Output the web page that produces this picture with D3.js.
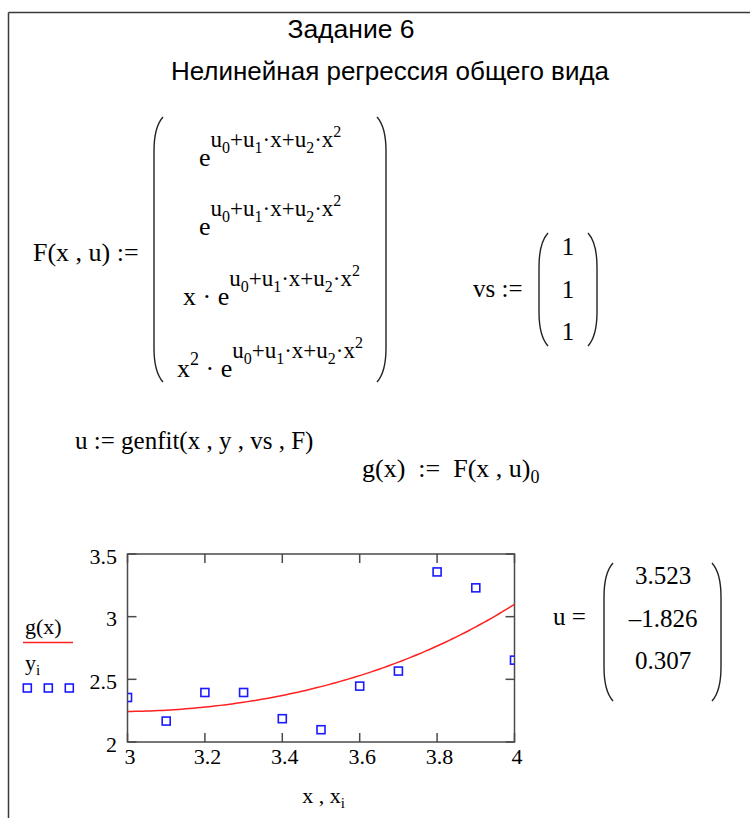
<!DOCTYPE html>
<html>
<head>
<meta charset="utf-8">
<script src="https://cdn.jsdelivr.net/npm/d3@7"></script>
<style>
  html, body { margin: 0; padding: 0; background: #fff; }
  svg { display: block; }
  .serif { font-family: "Liberation Serif", "Times New Roman", serif; fill: #000; }
  .sans { font-family: "Liberation Sans", Arial, sans-serif; fill: #000; }
</style>
</head>
<body>
<svg id="sheet" width="750" height="818"></svg>
<script>
// Observations x_i, y_i
const xData = [3.0, 3.1, 3.2, 3.3, 3.4, 3.5, 3.6, 3.7, 3.8, 3.9, 4.0];
const yData = [2.355, 2.167, 2.395, 2.395, 2.186, 2.098, 2.446, 2.566, 3.357, 3.230, 2.653];
// genfit result and initial guess
const uFit = [3.523, -1.826, 0.307];
const vsGuess = [1, 1, 1];
// Axis ticks
const xTicks = [3, 3.2, 3.4, 3.6, 3.8, 4];
const yTicks = [2, 2.5, 3, 3.5];
const xDomain = [3, 4];
const yDomain = [2, 3.5];

const svg = d3.select("#sheet");
const FRAME = "#3a3a3a";

// worksheet frame
svg.append("line").attr("x1", 8.5).attr("y1", 12.5).attr("x2", 750).attr("y2", 12.5)
  .attr("stroke", FRAME).attr("stroke-width", 1.5);
svg.append("line").attr("x1", 8.5).attr("y1", 12.5).attr("x2", 8.5).attr("y2", 818)
  .attr("stroke", FRAME).attr("stroke-width", 1.5);

// headings
svg.append("text").attr("class", "sans").attr("x", 351).attr("y", 38)
  .attr("text-anchor", "middle").attr("font-size", 26.5).text("Задание 6");
svg.append("text").attr("class", "sans").attr("x", 390).attr("y", 80)
  .attr("text-anchor", "middle").attr("font-size", 26).text("Нелинейная регрессия общего вида");

// rich text helper: segments of [text, size, dy]
function rich(x, y, segs, size, anchor) {
  const t = svg.append("text").attr("class", "serif").attr("x", x).attr("y", y)
    .attr("font-size", size).attr("xml:space", "preserve");
  if (anchor) t.attr("text-anchor", anchor);
  let cur = 0;
  segs.forEach(s => {
    const [txt, sz, off] = typeof s === "string" ? [s, size, 0] : s;
    t.append("tspan").attr("font-size", sz).attr("dy", off - cur).text(txt);
    cur = off;
  });
  return t;
}

// matrix brackets
function paren(x, y1, y2, left) {
  const d = left ? 1 : -1;
  const w = 9 * d;
  const p = d3.path();
  p.moveTo(x + w, y1);
  p.bezierCurveTo(x + w * 0.2, y1 + 8, x, y1 + 22, x, y1 + 34);
  p.lineTo(x, y2 - 34);
  p.bezierCurveTo(x, y2 - 22, x + w * 0.2, y2 - 8, x + w, y2);
  svg.append("path").attr("d", p.toString()).attr("fill", "none")
    .attr("stroke", "#222").attr("stroke-width", 1.4);
}

// exponent u0+u1·x+u2·x^2 (raised relative to the base line)
function exponentSegs(raise) {
  const s = 23, ss = 16, sub = raise + 6, sup = raise - 10;
  return [["u", s, raise], ["0", ss, sub], ["+u", s, raise], ["1", ss, sub],
          ["·x+u", s, raise], ["2", ss, sub], ["·x", s, raise], ["2", ss, sup]];
}

// F(x,u) definition
const BASE = 26;
rich(33, 261, ["F(x , u) :="], BASE);
paren(154, 117, 382, true);
paren(386, 117, 382, false);
rich(199, 166, [["e", BASE, 0]].concat(exponentSegs(-19)), BASE);
rich(199, 235, [["e", BASE, 0]].concat(exponentSegs(-19)), BASE);
rich(183, 305, [["x · e", BASE, 0]].concat(exponentSegs(-19)), BASE);
rich(177, 377, [["x", BASE, 0], ["2", 18, -12], [" · e", BASE, 0]].concat(exponentSegs(-19)), BASE);

// vs initial guess
rich(473, 297, ["vs :="], 25);
paren(539, 233, 346, true);
paren(597, 233, 346, false);
vsGuess.forEach((v, i) => {
  rich(568, 255 + i * 42.5, [String(v)], 25, "middle");
});

// genfit call and fitted function
rich(75, 449, ["u := genfit(x , y , vs , F)"], 25);
rich(362, 477, [["g(x)  :=  F(x , u)", BASE, 0], ["0", 18, 6]], BASE);

// fitted coefficients
rich(553, 625, ["u ="], 25);
paren(604, 563, 701, true);
paren(721, 563, 701, false);
const fmt = d3.format(".3f");
uFit.forEach((v, i) => {
  const s = (v < 0 ? "\u2013" : "") + fmt(Math.abs(v));
  rich(663, 584 + i * 42.5, [s], 25, "middle");
});

// ---- plot ----
const plot = { left: 127.5, right: 514.5, top: 554, bottom: 742 };
const x = d3.scaleLinear().domain(xDomain).range([plot.left, plot.right]);
const y = d3.scaleLinear().domain(yDomain).range([plot.bottom, plot.top]);

svg.append("clipPath").attr("id", "plotclip").append("rect")
  .attr("x", plot.left).attr("y", plot.top)
  .attr("width", plot.right - plot.left).attr("height", plot.bottom - plot.top);

const AX = "#4a4a4a";
const tickLen = 9;
// inward ticks on all four sides
xTicks.forEach(v => {
  svg.append("line").attr("x1", x(v)).attr("x2", x(v)).attr("y1", plot.top).attr("y2", plot.top + tickLen)
    .attr("stroke", AX).attr("stroke-width", 1.5);
  svg.append("line").attr("x1", x(v)).attr("x2", x(v)).attr("y1", plot.bottom).attr("y2", plot.bottom - tickLen)
    .attr("stroke", AX).attr("stroke-width", 1.5);
});
yTicks.forEach(v => {
  svg.append("line").attr("x1", plot.left).attr("x2", plot.left + tickLen).attr("y1", y(v)).attr("y2", y(v))
    .attr("stroke", AX).attr("stroke-width", 1.5);
  svg.append("line").attr("x1", plot.right).attr("x2", plot.right - tickLen).attr("y1", y(v)).attr("y2", y(v))
    .attr("stroke", AX).attr("stroke-width", 1.5);
});
svg.append("rect").attr("x", plot.left).attr("y", plot.top)
  .attr("width", plot.right - plot.left).attr("height", plot.bottom - plot.top)
  .attr("fill", "none").attr("stroke", AX).attr("stroke-width", 1.5);

// tick labels
xTicks.forEach(v => {
  svg.append("text").attr("class", "serif").attr("font-size", 22)
    .attr("x", x(v) + 2.5).attr("y", 764).attr("text-anchor", "middle").text(d3.format("")(v));
});
yTicks.forEach(v => {
  svg.append("text").attr("class", "serif").attr("font-size", 22)
    .attr("x", 117).attr("y", y(v) + (v === 2 ? 10 : 9.5)).attr("text-anchor", "end").text(d3.format("")(v));
});

// fitted curve g(x) = exp(u0 + u1 x + u2 x^2)
const g = t => Math.exp(uFit[0] + uFit[1] * t + uFit[2] * t * t);
const curveX = d3.range(xDomain[0], xDomain[1] + 1e-9, 0.01);
svg.append("path").attr("clip-path", "url(#plotclip)")
  .attr("d", d3.line().x(t => x(t)).y(t => y(g(t)))(curveX))
  .attr("fill", "none").attr("stroke", "#ff2020").attr("stroke-width", 1.5);

// data markers
const sq = 8;
svg.append("g").attr("clip-path", "url(#plotclip)").selectAll("rect")
  .data(xData.map((xv, i) => [xv, yData[i]])).join("rect")
  .attr("x", d => x(d[0]) - sq / 2).attr("y", d => y(d[1]) - sq / 2)
  .attr("width", sq).attr("height", sq)
  .attr("fill", "none").attr("stroke", "#1a1aff").attr("stroke-width", 1.6);

// legend
rich(25, 634, ["g(x)"], 22);
svg.append("line").attr("x1", 23).attr("x2", 73).attr("y1", 642.5).attr("y2", 642.5)
  .attr("stroke", "#ff2020").attr("stroke-width", 1.5);
rich(25, 670, [["y", 22, 0], ["i", 15, 5]], 22);
[27.3, 48.3, 69.3].forEach(cx => {
  svg.append("rect").attr("x", cx - sq / 2).attr("y", 688 - sq / 2).attr("width", sq).attr("height", sq)
    .attr("fill", "none").attr("stroke", "#1a1aff").attr("stroke-width", 1.6);
});

// axis caption
rich(323.5, 803, [["x , x", 22, 0], ["i", 15, 5]], 22, "middle");
</script>
</body>
</html>
